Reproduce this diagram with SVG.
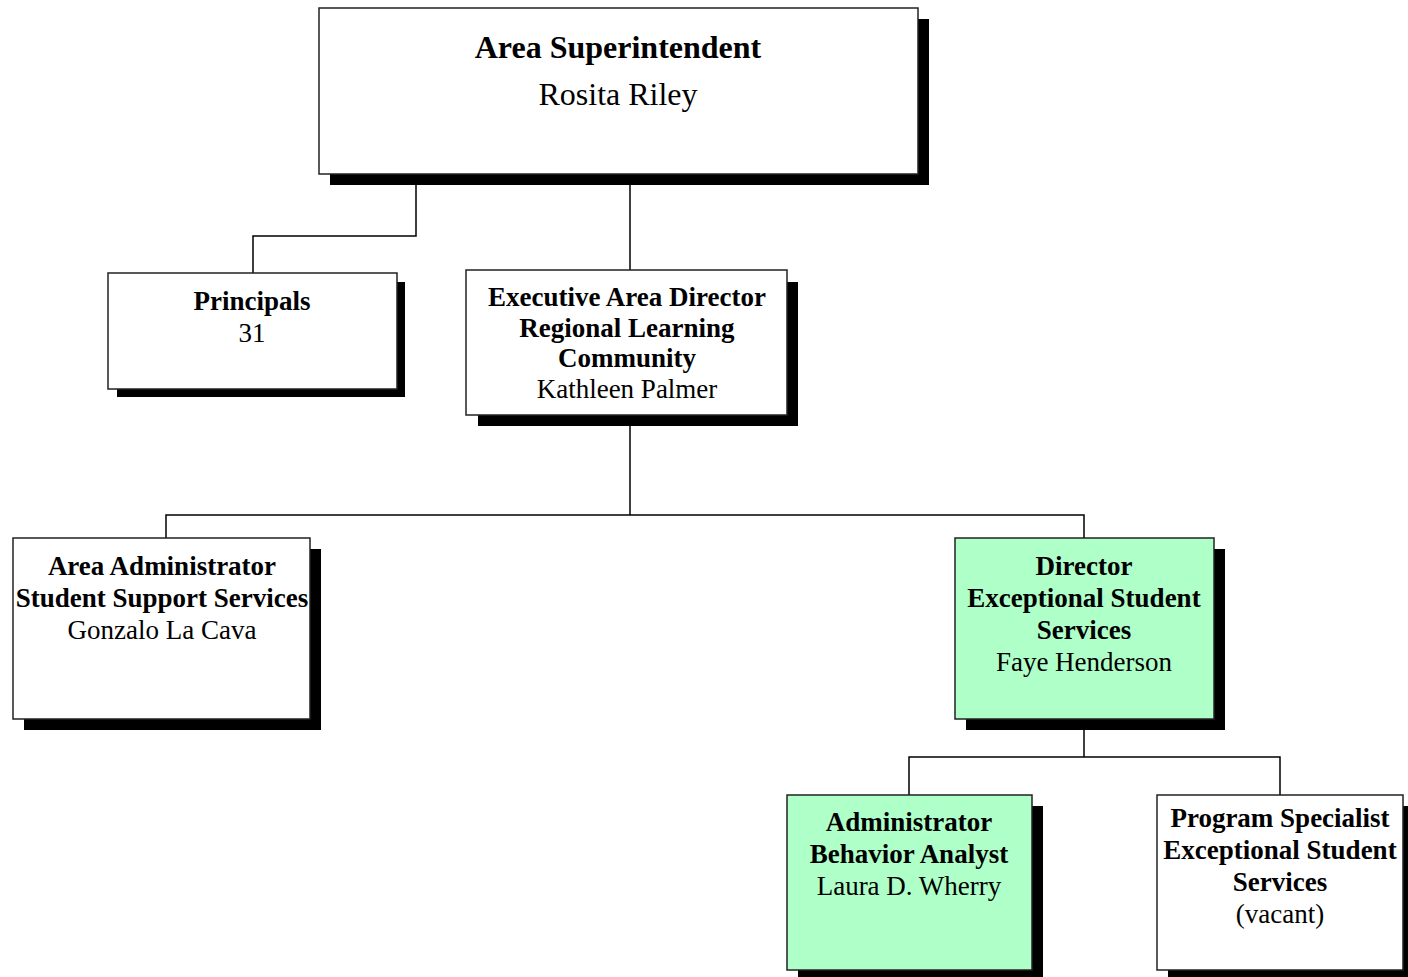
<svg xmlns="http://www.w3.org/2000/svg" width="1408" height="977" viewBox="0 0 1408 977">
<style>
.sh{fill:#000}
.bx{fill:#fff;stroke:#222;stroke-width:1.5}
.gr{fill:#afffc9;stroke:#222;stroke-width:1.5}
.t{font-family:"Liberation Serif","Times New Roman",serif;font-size:27px;text-anchor:middle;fill:#000}
.b{font-weight:bold}
.big{font-size:32px}
.ln{fill:none;stroke:#000;stroke-width:1.5}
</style>
<rect width="1408" height="977" fill="#fff"/>
<g id="connectors">
<polyline class="ln" points="416,185 416,236 253,236 253,273"/>
<polyline class="ln" points="630,185 630,270"/>
<polyline class="ln" points="630,426 630,515"/>
<polyline class="ln" points="166,538 166,515 1084,515 1084,538"/>
<polyline class="ln" points="1084,730 1084,757"/>
<polyline class="ln" points="909,795 909,757 1280,757 1280,795"/>
</g>
<g id="area-superintendent">
<rect class="sh" x="330" y="19" width="599" height="166"/>
<rect class="bx" x="319" y="8" width="599" height="166"/>
<text class="t b big" x="618" y="58">Area Superintendent</text>
<text class="t big" x="618" y="105">Rosita Riley</text>
</g>
<g id="principals">
<rect class="sh" x="117" y="282" width="288" height="115"/>
<rect class="bx" x="108" y="273" width="289" height="116"/>
<text class="t b" x="252" y="310">Principals</text>
<text class="t" x="252" y="342">31</text>
</g>
<g id="executive-area-director">
<rect class="sh" x="478" y="282" width="320" height="144"/>
<rect class="bx" x="466" y="270" width="321" height="145"/>
<text class="t b" x="627" y="306">Executive Area Director</text>
<text class="t b" x="627" y="337">Regional Learning</text>
<text class="t b" x="627" y="367">Community</text>
<text class="t" x="627" y="398">Kathleen Palmer</text>
</g>
<g id="area-administrator">
<rect class="sh" x="24" y="549" width="297" height="181"/>
<rect class="bx" x="13" y="538" width="297" height="181"/>
<text class="t b" x="162" y="575">Area Administrator</text>
<text class="t b" x="162" y="607">Student Support Services</text>
<text class="t" x="162" y="639">Gonzalo La Cava</text>
</g>
<g id="director-ess">
<rect class="sh" x="966" y="549" width="259" height="181"/>
<rect class="gr" x="955" y="538" width="259" height="181"/>
<text class="t b" x="1084" y="575">Director</text>
<text class="t b" x="1084" y="607">Exceptional Student</text>
<text class="t b" x="1084" y="639">Services</text>
<text class="t" x="1084" y="671">Faye Henderson</text>
</g>
<g id="administrator-behavior-analyst">
<rect class="sh" x="798" y="806" width="245" height="175"/>
<rect class="gr" x="787" y="795" width="245" height="175"/>
<text class="t b" x="909" y="831">Administrator</text>
<text class="t b" x="909" y="863">Behavior Analyst</text>
<text class="t" x="909" y="895">Laura D. Wherry</text>
</g>
<g id="program-specialist">
<rect class="sh" x="1168" y="806" width="245" height="175"/>
<rect class="bx" x="1157" y="795" width="246" height="175"/>
<text class="t b" x="1280" y="827">Program Specialist</text>
<text class="t b" x="1280" y="859">Exceptional Student</text>
<text class="t b" x="1280" y="891">Services</text>
<text class="t" x="1280" y="923">(vacant)</text>
</g>
</svg>
